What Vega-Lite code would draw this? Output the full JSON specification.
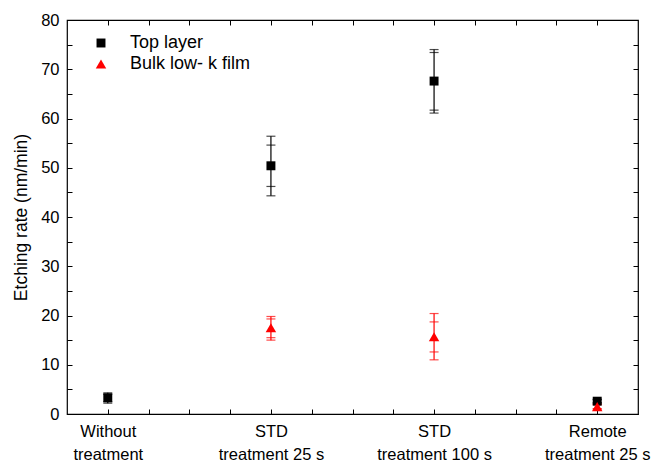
{
  "$schema": "https://vega.github.io/schema/vega-lite/v6.json",
  "width": 571,
  "height": 394,
  "autosize": "none",
  "padding": {"left": 67, "top": 20, "right": 19, "bottom": 48},
  "background": "white",
  "config": {
    "font": "Liberation Sans",
    "view": {"stroke": "black", "strokeWidth": 1.2},
    "axis": {
      "domain": false,
      "grid": false,
      "tickColor": "black",
      "tickSize": -5,
      "tickWidth": 1,
      "labelColor": "black",
      "labelFont": "Liberation Sans",
      "labelFontSize": 16.5,
      "titleFont": "Liberation Sans",
      "titleFontSize": 17.5,
      "titleFontWeight": "normal",
      "titleColor": "black"
    }
  },
  "data": {
    "values": [
      {"idx": 1, "treatment": "Without treatment", "series": "Top layer", "rate": 3.3, "lo1": 2.2, "hi1": 4.3, "lo2": 2.5, "hi2": 4.0},
      {"idx": 2, "treatment": "STD treatment 25 s", "series": "Top layer", "rate": 50.4, "lo1": 44.3, "hi1": 56.4, "lo2": 46.2, "hi2": 54.6},
      {"idx": 3, "treatment": "STD treatment 100 s", "series": "Top layer", "rate": 67.6, "lo1": 61.1, "hi1": 74.0, "lo2": 61.7, "hi2": 73.4},
      {"idx": 4, "treatment": "Remote treatment 25 s", "series": "Top layer", "rate": 2.6, "lo1": 2.2, "hi1": 3.0, "lo2": 2.3, "hi2": 2.9},
      {"idx": 2, "treatment": "STD treatment 25 s", "series": "Bulk low- k film", "rate": 17.5, "lo1": 15.0, "hi1": 19.8, "lo2": 15.5, "hi2": 19.3},
      {"idx": 3, "treatment": "STD treatment 100 s", "series": "Bulk low- k film", "rate": 15.7, "lo1": 11.0, "hi1": 20.4, "lo2": 12.6, "hi2": 18.7},
      {"idx": 4, "treatment": "Remote treatment 25 s", "series": "Bulk low- k film", "rate": 1.5, "lo1": 1.0, "hi1": 2.0, "lo2": 1.1, "hi2": 1.9}
    ]
  },
  "resolve": {"axis": {"x": "independent", "y": "independent"}},
  "layer": [
    {
      "mark": {"type": "rule", "strokeWidth": 1.2},
      "encoding": {
        "x": {
          "field": "idx", "type": "quantitative",
          "scale": {"domain": [0.75, 4.25], "nice": false, "zero": false},
          "axis": {
            "orient": "bottom",
            "title": null,
            "values": [1, 1.25, 1.5, 1.75, 2, 2.25, 2.5, 2.75, 3, 3.25, 3.5, 3.75, 4],
            "labelOverlap": false,
            "labelFlush": false,
            "labelPadding": 14,
            "labelLineHeight": 23,
            "labelExpr": "datum.value == 1 ? ['Without', 'treatment'] : datum.value == 2 ? ['STD', 'treatment 25 s'] : datum.value == 3 ? ['STD', 'treatment 100 s'] : datum.value == 4 ? ['Remote', 'treatment 25 s'] : ''"
          }
        },
        "y": {
          "field": "lo1", "type": "quantitative",
          "scale": {"domain": [0, 80], "nice": false},
          "axis": {
            "orient": "left",
            "title": "Etching rate (nm/min)",
            "titlePadding": 10,
            "values": [0, 5, 10, 15, 20, 25, 30, 35, 40, 45, 50, 55, 60, 65, 70, 75, 80],
            "labelOverlap": false,
            "labelFlush": false,
            "labelPadding": 13,
            "labelExpr": "datum.value % 10 == 0 ? datum.label : ''"
          }
        },
        "y2": {"field": "hi1"},
        "color": {
          "field": "series", "type": "nominal",
          "scale": {"domain": ["Top layer", "Bulk low- k film"], "range": ["#000000", "#ff0000"]},
          "legend": {
            "title": null,
            "orient": "none",
            "legendX": 25,
            "legendY": 14,
            "labelFont": "Liberation Sans",
            "labelFontSize": 18,
            "labelColor": "black",
            "labelOffset": 20,
            "rowPadding": 3,
            "symbolSize": 80,
            "symbolOpacity": 1,
            "symbolStrokeWidth": 0,
            "encode": {
              "symbols": {
                "update": {
                  "opacity": {"value": 1},
                  "fillOpacity": {"value": 1},
                  "strokeOpacity": {"value": 0}
                }
              }
            }
          }
        }
      }
    },
    {
      "transform": [{"fold": ["lo1", "hi1", "lo2", "hi2"], "as": ["bound", "val"]}],
      "mark": {"type": "tick", "orient": "horizontal", "size": 9, "thickness": 1.2},
      "encoding": {
        "x": {
          "field": "idx", "type": "quantitative",
          "axis": {
            "orient": "top",
            "title": null,
            "values": [1, 1.25, 1.5, 1.75, 2, 2.25, 2.5, 2.75, 3, 3.25, 3.5, 3.75, 4],
            "labels": false
          }
        },
        "y": {
          "field": "val", "type": "quantitative",
          "axis": {
            "orient": "right",
            "title": null,
            "values": [0, 5, 10, 15, 20, 25, 30, 35, 40, 45, 50, 55, 60, 65, 70, 75],
            "labels": false
          }
        },
        "color": {"field": "series", "type": "nominal"}
      }
    },
    {
      "mark": {"type": "point", "filled": true, "opacity": 1},
      "encoding": {
        "x": {"field": "idx", "type": "quantitative", "axis": null},
        "y": {"field": "rate", "type": "quantitative", "axis": null},
        "color": {"field": "series", "type": "nominal"},
        "shape": {
          "field": "series", "type": "nominal",
          "scale": {"domain": ["Top layer", "Bulk low- k film"], "range": ["square", "triangle-up"]}
        },
        "size": {
          "field": "series", "type": "nominal",
          "scale": {"domain": ["Top layer", "Bulk low- k film"], "range": [80, 110]},
          "legend": null
        }
      }
    }
  ]
}
